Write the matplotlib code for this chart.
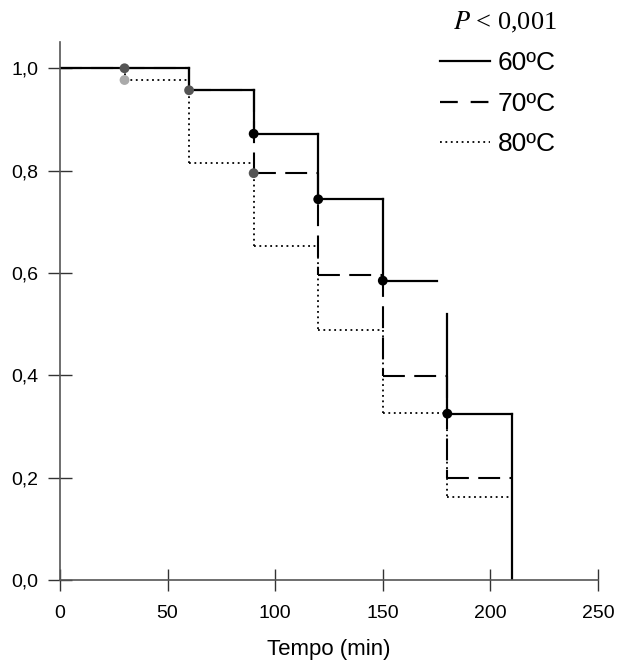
import numpy as np
import matplotlib.pyplot as plt
from matplotlib.lines import Line2D

plt.rcParams['font.family'] = ['Liberation Sans', 'DejaVu Sans']
plt.rcParams['mathtext.fontset'] = 'stix'

# step times (min) and survival values for each temperature
t_steps = [0, 60, 90, 120, 150, 180, 210]
s60 = [1.0, 0.957, 0.872, 0.744, 0.585, 0.325]
s70 = [1.0, 0.957, 0.795, 0.596, 0.398, 0.200]
s80 = [1.0, 0.977, 0.814, 0.652, 0.488, 0.326, 0.163]
t80 = [0, 30, 60, 90, 120, 150, 180, 210]
# 60C curve: level 0,585 stops at 175 and the drop at 180 starts at 0,52
end60_short = 175
top60_drop = 0.52

# censoring dots
dot_t = [30, 30, 60, 90, 90, 120, 150, 180]
dot_s = [1.0, 0.977, 0.957, 0.872, 0.795, 0.744, 0.585, 0.325]
dot_c = ['#555555', '#aaaaaa', '#555555', 'black', '#555555', 'black', 'black', 'black']

xticks = [0, 50, 100, 150, 200, 250]
yticks = [0.0, 0.2, 0.4, 0.6, 0.8, 1.0]
ylabels = ['0,0', '0,2', '0,4', '0,6', '0,8', '1,0']

fig = plt.figure(figsize=(6.17, 6.64), dpi=100)
ax = fig.add_axes([0.0972, 0.1265, 0.872, 0.810])

dash = (0, (10.5, 4.5))
dot = (0, (1, 2))


def draw_steps(t, s, ls, lw, end=None):
    for i in range(len(s)):
        x1 = t[i + 1] if i + 1 < len(t) else end
        ax.plot([t[i], x1], [s[i], s[i]], color='black', linestyle=ls, lw=lw)
        if i + 1 < len(s):
            ax.plot([t[i + 1], t[i + 1]], [s[i], s[i + 1]], color='black', linestyle=ls, lw=lw)


# 80C
draw_steps(t80, s80, dot, 1.3)
# 70C
draw_steps(t_steps, s70, dash, 1.5)
# 60C
for i in range(4):
    ax.plot([t_steps[i], t_steps[i + 1]], [s60[i], s60[i]], color='black', lw=1.6)
    ax.plot([t_steps[i + 1], t_steps[i + 1]], [s60[i], s60[i + 1]], color='black', lw=1.6)
ax.plot([t_steps[4], end60_short], [s60[4], s60[4]], color='black', lw=1.6)
ax.plot([t_steps[5], t_steps[5]], [top60_drop, s60[5]], color='black', lw=1.6)
ax.plot([t_steps[5], t_steps[6]], [s60[5], s60[5]], color='black', lw=1.6)
ax.plot([t_steps[6], t_steps[6]], [s60[5], 0.0], color='black', lw=1.6)

ax.scatter(dot_t, dot_s, s=50, c=dot_c, zorder=5, linewidths=0)

ax.set_xlim(0, 250)
ax.set_ylim(0, 1.051)
ax.set_xticks(xticks)
ax.set_yticks(yticks)
ax.set_yticklabels(ylabels)
for sp in ['top', 'right']:
    ax.spines[sp].set_visible(False)
for sp in ['left', 'bottom']:
    ax.spines[sp].set_color('#555555')
    ax.spines[sp].set_linewidth(1.2)
ax.tick_params(axis='x', direction='inout', length=16, width=1, color='#333333', labelsize=14, pad=10)
ax.tick_params(axis='y', direction='inout', length=17, width=1, color='#333333', labelsize=14, pad=7)
ax.set_xlabel('Tempo (min)', fontsize=16, labelpad=12)

fig.text(0.903, 0.966, r'$P$ < 0,001', fontsize=19, family='Liberation Serif', ha='right', va='center')
handles = [Line2D([], [], color='black', lw=1.6),
           Line2D([], [], color='black', lw=1.6, linestyle=(0, (8, 5.8))),
           Line2D([], [], color='black', lw=1.3, linestyle=dot)]
fig.legend(handles, ['60ºC', '70ºC', '80ºC'], loc='upper left', bbox_to_anchor=(0.713, 0.923),
           frameon=False, fontsize=19, handlelength=1.9, handletextpad=0.3, labelspacing=0.63,
           borderaxespad=0, borderpad=0)

plt.savefig('out.png', dpi=100)
